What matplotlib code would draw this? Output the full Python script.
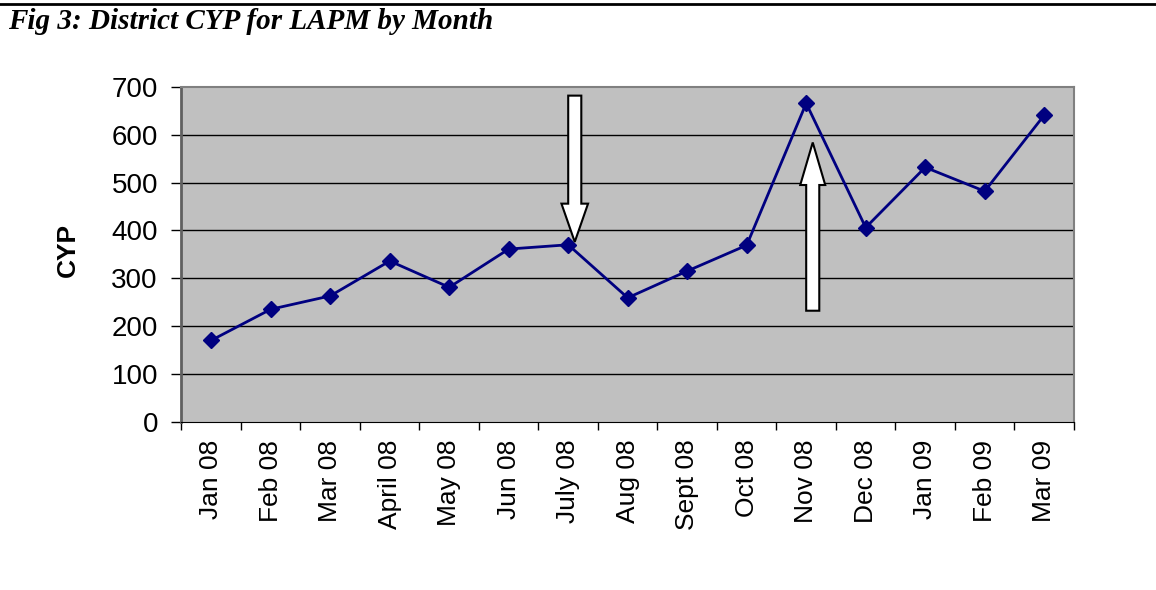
import matplotlib.pyplot as plt
from matplotlib.patches import FancyArrow
import numpy as np

# Datos del gráfico
meses = ["Jan 08", "Feb 08", "Mar 08", "April 08", "May 08", "Jun 08", "July 08",
         "Aug 08", "Sept 08", "Oct 08", "Nov 08", "Dec 08", "Jan 09", "Feb 09", "Mar 09"]
cyp = [170, 235, 263, 336, 281, 361, 370, 259, 315, 369, 666, 406, 532, 482, 641]

# Flechas: (posición del mes, inicio, fin)
flechas = [(6.11, 682, 376), (10.11, 232, 584)]

fig = plt.figure(figsize=(11.56, 5.90), dpi=100)
ax = fig.add_axes([0.157, 0.2854, 0.772, 0.5671])

x = np.arange(len(meses))
ax.set_facecolor("#C0C0C0")
ax.set_xlim(-0.5, len(meses) - 0.5)
ax.set_ylim(0, 700)

# Líneas horizontales de la cuadrícula
for v in range(100, 700, 100):
    ax.axhline(v, color="black", lw=1, zorder=1)

ax.plot(x, cyp, color="#000080", lw=2, marker="D", markersize=8.5, zorder=3)

# Flechas blancas
for xa, y0, y1 in flechas:
    largo_cabeza = 80 if y1 < y0 else 89
    ancho_cabeza = 0.447 if y1 < y0 else 0.42
    ax.add_patch(FancyArrow(xa, y0, 0, y1 - y0, width=0.22, head_width=ancho_cabeza,
                            head_length=largo_cabeza, length_includes_head=True,
                            facecolor="white", edgecolor="black", lw=1.5, zorder=4))

# Ejes
ax.set_yticks(range(0, 701, 100))
ax.tick_params(axis="y", length=7, width=1, pad=10, labelsize=20)
ax.set_xticks(np.arange(-0.5, len(meses), 1))
ax.set_xticklabels([])
ax.tick_params(axis="x", which="major", length=6, width=1)
ax.set_xticks(x, minor=True)
ax.set_xticklabels(meses, minor=True, rotation=90, fontsize=19)
ax.tick_params(axis="x", which="minor", length=0, pad=13)
for lab in ax.get_xticklabels(minor=True) + ax.get_yticklabels():
    lab.set_fontfamily("Liberation Sans")

for s in ["left", "top", "right"]:
    ax.spines[s].set_color("#808080")
ax.spines["left"].set_linewidth(2)
ax.spines["left"].set_color("#606060")
ax.spines["bottom"].set_color("black")
ax.spines["top"].set_linewidth(1.5)
ax.spines["right"].set_linewidth(1.5)

fig.text(68 / 1156, 1 - 250 / 590, "CYP", rotation=90, fontsize=19, fontweight="bold",
         family="Liberation Sans", ha="center", va="center")

# Título y línea superior
fig.text(8 / 1156, 1 - 29 / 590, "Fig 3: District CYP for LAPM by Month", fontsize=21,
         fontweight="bold", fontstyle="italic", family="Liberation Serif", va="baseline")
fig.add_artist(plt.Line2D([0, 1], [1 - 3.7 / 590, 1 - 3.7 / 590], color="black", lw=2))

fig.savefig("out.png", dpi=100)
